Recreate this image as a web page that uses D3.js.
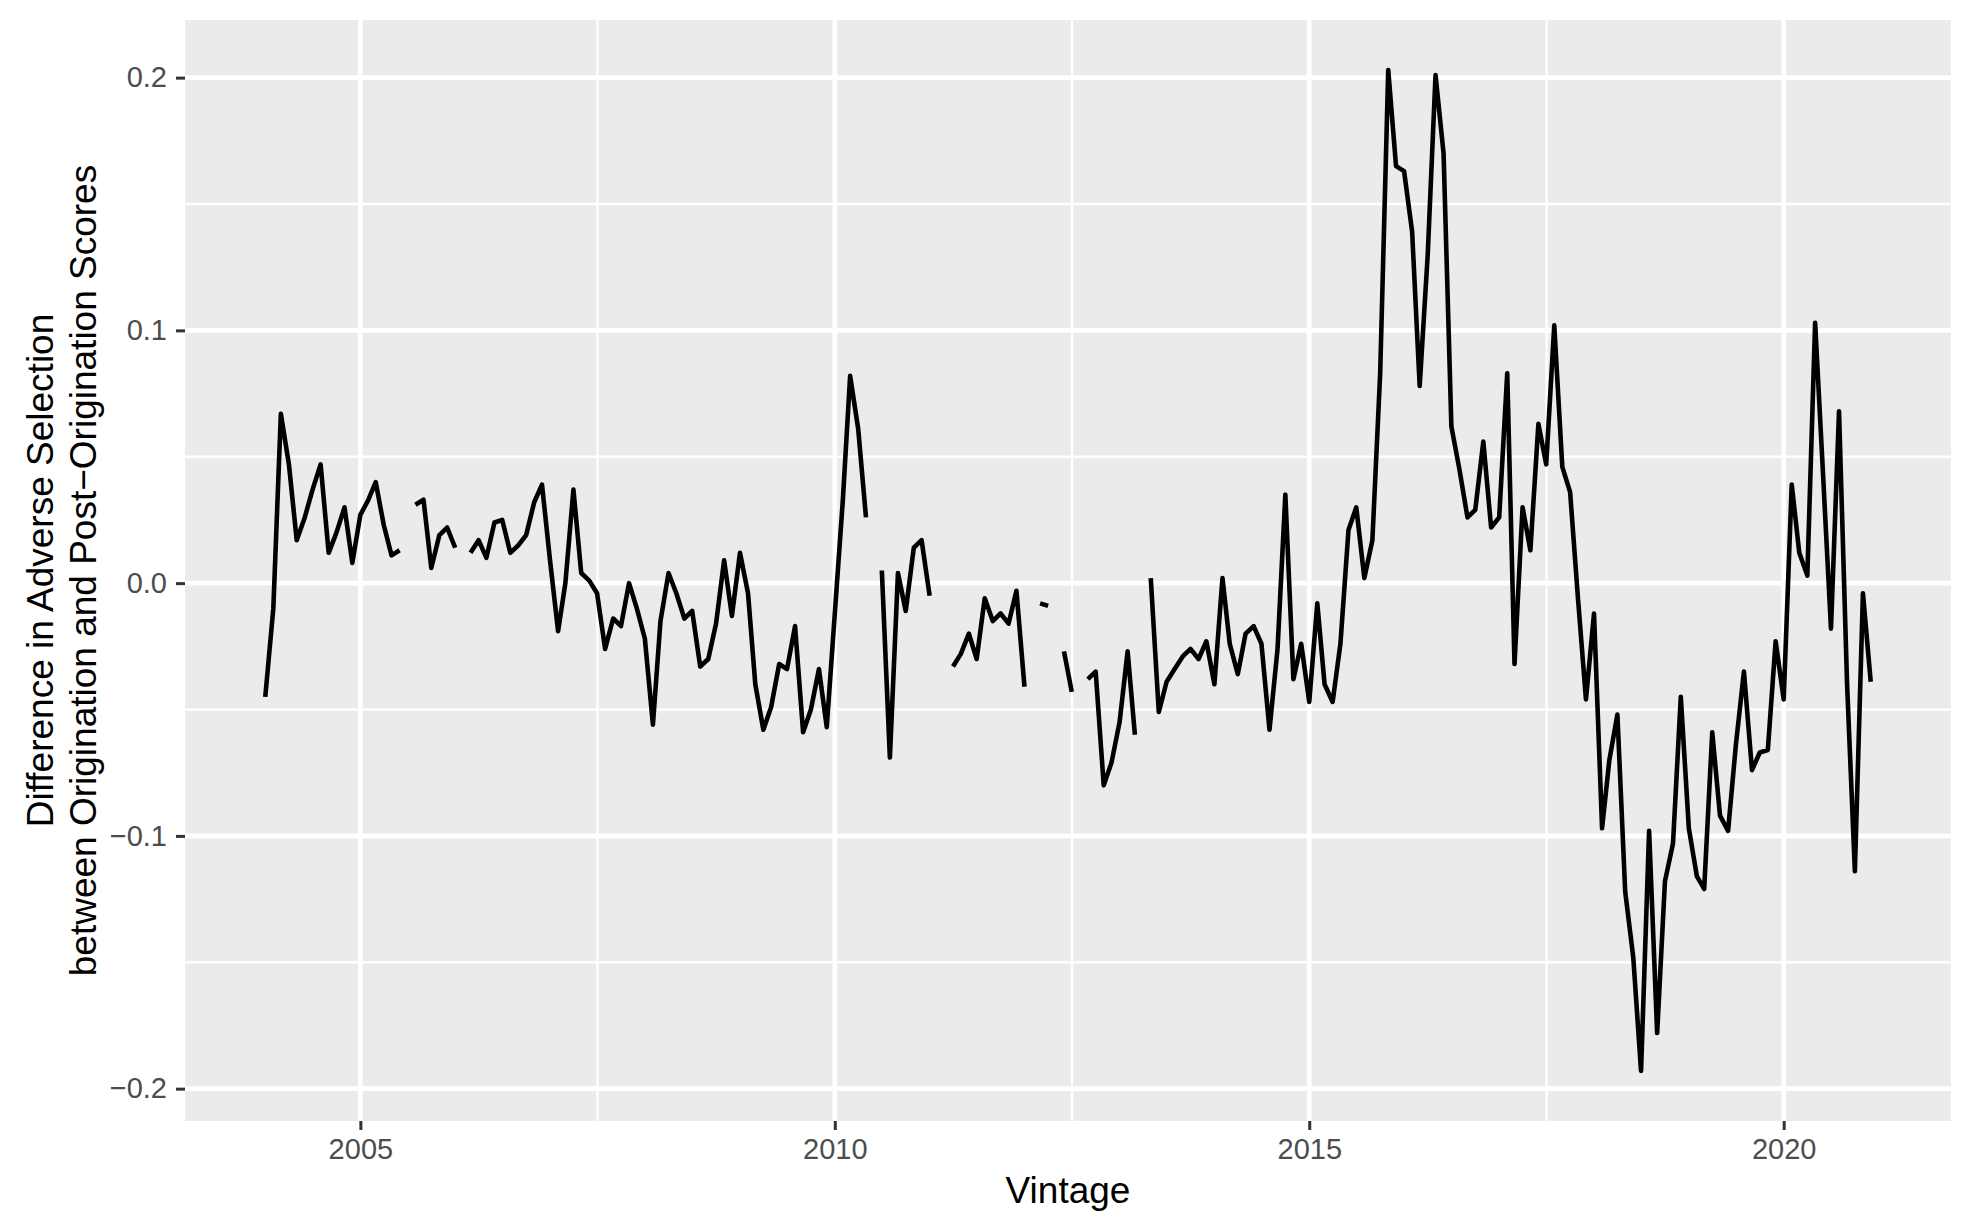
<!DOCTYPE html>
<html>
<head>
<meta charset="utf-8">
<script src="https://cdnjs.cloudflare.com/ajax/libs/d3/7.8.5/d3.min.js"></script>
<style>
  body { margin: 0; background: #fff; }
  svg { display: block; font-family: "Liberation Sans", Arial, sans-serif; }
</style>
</head>
<body>
<div id="vis"></div>
<script>

var width = 1970;
var height = 1228;

var margin = {top: 20, right: 19, bottom: 107, left: 185};

// monthly vintages, Jan 2004 .. Dec 2020
var vintages = d3.timeMonth.range(new Date(2004, 0, 1), new Date(2021, 0, 1));

// difference in adverse selection, one per month (null = missing month)
var diff_values = [
  -0.045, -0.010, 0.067, 0.047, 0.017, 0.026, 0.037, 0.047, 0.012, 0.020, 0.030, 0.008,
  0.027, 0.033, 0.040, 0.023, 0.011, 0.013, null, 0.031, 0.033, 0.006, 0.019, 0.022,
  0.014, null, 0.012, 0.017, 0.010, 0.024, 0.025, 0.012, 0.015, 0.019, 0.032, 0.039,
  0.009, -0.019, 0.000, 0.037, 0.004, 0.001, -0.004, -0.026, -0.014, -0.017, 0.000, -0.010,
  -0.022, -0.056, -0.015, 0.004, -0.004, -0.014, -0.011, -0.033, -0.030, -0.016, 0.009, -0.013,
  0.012, -0.004, -0.040, -0.058, -0.049, -0.032, -0.034, -0.017, -0.059, -0.050, -0.034, -0.057,
  -0.012, 0.033, 0.082, 0.061, 0.026, null, 0.005, -0.069, 0.004, -0.011, 0.014, 0.017,
  -0.005, null, null, -0.033, -0.028, -0.020, -0.030, -0.006, -0.015, -0.012, -0.016, -0.003,
  -0.041, null, -0.008, -0.009, null, -0.027, -0.043, null, -0.038, -0.035, -0.080, -0.071,
  -0.055, -0.027, -0.060, null, 0.002, -0.051, -0.039, -0.034, -0.029, -0.026, -0.030, -0.023,
  -0.040, 0.002, -0.024, -0.036, -0.020, -0.017, -0.024, -0.058, -0.026, 0.035, -0.038, -0.024,
  -0.047, -0.008, -0.040, -0.047, -0.024, 0.021, 0.030, 0.002, 0.017, 0.083, 0.203, 0.165,
  0.163, 0.139, 0.078, 0.130, 0.201, 0.170, 0.062, 0.045, 0.026, 0.029, 0.056, 0.022,
  0.026, 0.083, -0.032, 0.030, 0.013, 0.063, 0.047, 0.102, 0.046, 0.036, -0.007, -0.046,
  -0.012, -0.097, -0.070, -0.052, -0.122, -0.148, -0.193, -0.098, -0.178, -0.118, -0.103, -0.045,
  -0.097, -0.116, -0.121, -0.059, -0.092, -0.098, -0.064, -0.035, -0.074, -0.067, -0.066, -0.023,
  -0.046, 0.039, 0.012, 0.003, 0.103, 0.042, -0.018, 0.068, -0.040, -0.114, -0.004, -0.039
];

var x_ticks = [2005, 2010, 2015, 2020];
var x_minor = [2007.5, 2012.5, 2017.5];
var y_ticks = [-0.2, -0.1, 0.0, 0.1, 0.2];
var y_tick_labels = ["\u22120.2", "\u22120.1", "0.0", "0.1", "0.2"];
var y_minor = [-0.15, -0.05, 0.05, 0.15];

var x_title = "Vintage";
var y_title = ["Difference in Adverse Selection",
  "between Origination and Post\u2212Origination Scores"];

var data = vintages.map(function(d, i){ return {date: d, value: diff_values[i]}; });

function year_to_date(y){
  var yr = Math.floor(y);
  var start = new Date(yr, 0, 1), end = new Date(yr + 1, 0, 1);
  return new Date(+start + (y - yr) * (end - start));
}

// ggplot style 5% expansion
function expand(ext){
  var pad = (ext[1] - ext[0]) * 0.05;
  return [ext[0] - pad, ext[1] + pad];
}

var x_ext = d3.extent(data, d => +d.date);
var x_scale = d3.scaleTime()
  .domain(expand(x_ext).map(d => new Date(d)))
  .range([margin.left, width - margin.right]);

var y_scale = d3.scaleLinear()
  .domain(expand(d3.extent(data.filter(d => d.value !== null), d => d.value)))
  .range([height - margin.bottom, margin.top]);

var svg = d3.select("#vis").append("svg")
  .attr("width", width)
  .attr("height", height);

// panel
svg.append("rect")
  .attr("x", margin.left)
  .attr("y", margin.top)
  .attr("width", width - margin.left - margin.right)
  .attr("height", height - margin.top - margin.bottom)
  .attr("fill", "#EBEBEB");

var grid = svg.append("g");

grid.selectAll(".y-minor").data(y_minor).enter().append("line")
  .attr("x1", margin.left).attr("x2", width - margin.right)
  .attr("y1", d => y_scale(d)).attr("y2", d => y_scale(d))
  .attr("stroke", "#fff").attr("stroke-width", 2.3);

grid.selectAll(".x-minor").data(x_minor).enter().append("line")
  .attr("x1", d => x_scale(year_to_date(d))).attr("x2", d => x_scale(year_to_date(d)))
  .attr("y1", margin.top).attr("y2", height - margin.bottom)
  .attr("stroke", "#fff").attr("stroke-width", 2.3);

grid.selectAll(".y-major").data(y_ticks).enter().append("line")
  .attr("x1", margin.left).attr("x2", width - margin.right)
  .attr("y1", d => y_scale(d)).attr("y2", d => y_scale(d))
  .attr("stroke", "#fff").attr("stroke-width", 4.6);

grid.selectAll(".x-major").data(x_ticks).enter().append("line")
  .attr("x1", d => x_scale(year_to_date(d))).attr("x2", d => x_scale(year_to_date(d)))
  .attr("y1", margin.top).attr("y2", height - margin.bottom)
  .attr("stroke", "#fff").attr("stroke-width", 4.6);

// the series, broken at missing months
var line = d3.line()
  .defined(d => d.value !== null)
  .x(d => x_scale(d.date))
  .y(d => y_scale(d.value));

svg.append("path")
  .datum(data)
  .attr("d", line)
  .attr("fill", "none")
  .attr("stroke", "#000")
  .attr("stroke-width", 4.6)
  .attr("stroke-linejoin", "round")
  .attr("stroke-linecap", "butt");

// axes
var x_axis = svg.append("g")
  .attr("transform", "translate(0," + (height - margin.bottom) + ")")
  .call(d3.axisBottom(x_scale)
    .tickValues(x_ticks.map(year_to_date))
    .tickFormat(d3.timeFormat("%Y"))
    .tickSizeInner(9).tickSizeOuter(0).tickPadding(6));

var y_axis = svg.append("g")
  .attr("transform", "translate(" + margin.left + ",0)")
  .call(d3.axisLeft(y_scale)
    .tickValues(y_ticks)
    .tickFormat((d, i) => y_tick_labels[i])
    .tickSizeInner(9).tickSizeOuter(0).tickPadding(9));

[x_axis, y_axis].forEach(function(ax){
  ax.select(".domain").remove();
  ax.selectAll(".tick line").attr("stroke", "#333333").attr("stroke-width", 3);
  ax.selectAll(".tick text")
    .attr("fill", "#4D4D4D")
    .style("font-family", "'Liberation Sans', Arial, sans-serif")
    .style("font-size", "29px");
});
x_axis.selectAll(".tick text").attr("dy", "0.78em");

// titles
svg.append("text")
  .attr("x", (margin.left + width - margin.right) / 2)
  .attr("y", 1203)
  .attr("text-anchor", "middle")
  .style("font-size", "37px")
  .attr("fill", "#000")
  .text(x_title);

var y_mid = (margin.top + height - margin.bottom) / 2;
svg.selectAll(".y-title").data(y_title).enter().append("text")
  .attr("transform", (d, i) => "translate(" + (53 + i * 43) + "," + y_mid + ") rotate(-90)")
  .attr("text-anchor", "middle")
  .style("font-size", "37px")
  .attr("fill", "#000")
  .text(d => d);

</script>
</body>
</html>
